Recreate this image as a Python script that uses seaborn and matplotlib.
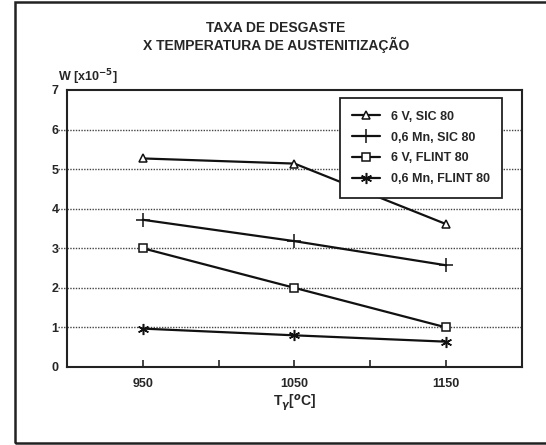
import matplotlib
matplotlib.use('Agg')
import matplotlib.pyplot as plt
import numpy as np
import pandas
import seaborn as sns
from matplotlib.patches import Rectangle

TEMPS = [950, 1050, 1150]
SERIES = ['6 V, SIC 80', '0,6 Mn, SIC 80', '6 V, FLINT 80', '0,6 Mn, FLINT 80']
V_SIC = [5.27, 5.14, 3.61]
MN_SIC = [3.72, 3.18, 2.57]
V_FLINT = [3.0, 2.0, 1.0]
MN_FLINT = [0.97, 0.80, 0.64]
MARKERS = ['^', '+', 's', (6, 2, 0)]
MSIZES = [6, 10, 6, 8]

plot_df = pandas.DataFrame({
    'temp': np.tile(TEMPS, len(SERIES)),
    'w': V_SIC + MN_SIC + V_FLINT + MN_FLINT,
    'serie': np.repeat(SERIES, len(TEMPS))})

sns.set_style('white')
plt.rcParams['font.family'] = ['Liberation Sans', 'DejaVu Sans']
plt.rcParams['font.weight'] = 'bold'

fig = plt.figure(figsize=(5.46, 4.45), dpi=100)
ax = fig.add_axes([0.1227, 0.1753, 0.8333, 0.6225])

# one call per series, markers of different kinds can't be mixed in one call
for serie, mk, ms in zip(SERIES, MARKERS, MSIZES):
    sns.lineplot(data=plot_df[plot_df['serie'] == serie], x='temp', y='w',
        color='#111111', marker=mk, ax=ax, lw=1.6, ms=ms, mfc='white',
        mec='#111111', mew=1.1, label=serie)

ax.set_xlim(900, 1200)
ax.set_ylim(0, 7)
ax.set_xticks([950, 1000, 1050, 1100, 1150])
ax.set_xticklabels(['950', '', '1050', '', '1150'])
ax.set_yticks(range(8))
ax.tick_params(axis='x', direction='in', length=5, width=1.2, labelsize=9,
    pad=8, bottom=True)
ax.tick_params(axis='y', direction='out', length=0, labelsize=9, pad=6)
for y in range(1, 7):
    ax.axhline(y, color='#444444', ls=(0, (1, 1)), lw=1, zorder=0)
    ax.plot([-0.02, 0], [y, y], transform=ax.get_yaxis_transform(),
        color='#444444', ls=(0, (1, 1)), lw=1, clip_on=False)
for s in ax.spines.values():
    s.set_color('#222222')
    s.set_linewidth(1.5)

ax.set_xlabel('T$_\\gamma$[$^{o}$C]', fontsize=10, fontweight='bold', labelpad=2)
ax.set_ylabel('')
ax.text(-0.02, 1.01, 'W [x10$^{-5}$]', transform=ax.transAxes, fontsize=9,
    fontweight='bold', ha='left', va='bottom')

leg = ax.legend(loc='upper right', bbox_to_anchor=(0.957, 0.97), frameon=True,
    fancybox=False, edgecolor='#222222', framealpha=1,
    borderpad=1.0, labelspacing=0.7, handlelength=2.2, handletextpad=0.9,
    borderaxespad=0, prop={'weight': 'bold', 'size': 9})
leg.get_frame().set_linewidth(1.3)

fig.text(0.505, 0.936, 'TAXA DE DESGASTE', ha='center', va='center',
    fontsize=10, fontweight='bold')
fig.text(0.505, 0.898, 'X TEMPERATURA DE AUSTENITIZAÇÃO', ha='center',
    va='center', fontsize=10, fontweight='bold')

fig.patches.append(Rectangle((15 / 546, 2 / 445), 1.1, 441 / 445,
    transform=fig.transFigure, fill=False, ec='#222222', lw=1.8))

fig.savefig('out.png', dpi=100)
